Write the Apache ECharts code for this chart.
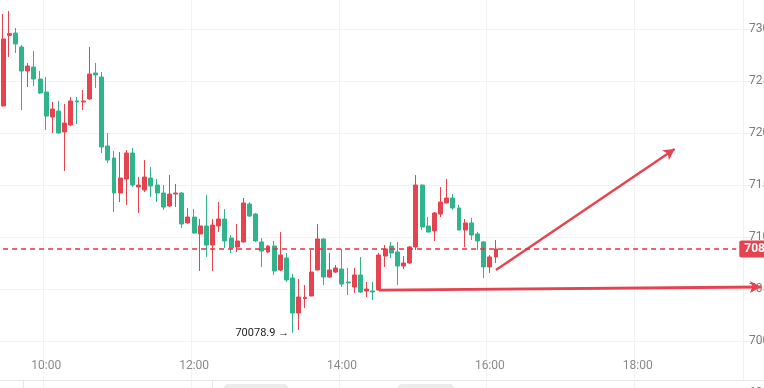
<!DOCTYPE html>
<html><head><meta charset="utf-8">
<script src="https://cdn.jsdelivr.net/npm/echarts/dist/echarts.min.js"></script>
<style>html,body{margin:0;padding:0;background:#fff}#c{width:764px;height:388px}</style>
</head><body><div id="c"></div>
<script>
const times = [
 '09:25','09:30','09:35','09:40','09:45','09:50','09:55',
 '10:00','10:05','10:10','10:15','10:20','10:25','10:30','10:35','10:40','10:45','10:50','10:55',
 '11:00','11:05','11:10','11:15','11:20','11:25','11:30','11:35','11:40','11:45','11:50','11:55',
 '12:00','12:05','12:10','12:15','12:20','12:25','12:30','12:35','12:40','12:45','12:50','12:55',
 '13:00','13:05','13:10','13:15','13:20','13:25','13:30','13:35','13:40','13:45','13:50','13:55',
 '14:00','14:05','14:10','14:15','14:20','14:25','14:30','14:35','14:40','14:45','14:50','14:55',
 '15:00','15:05','15:10','15:15','15:20','15:25','15:30','15:35','15:40','15:45','15:50','15:55',
 '16:00','16:05','16:10','16:15','16:20','16:25','16:30','16:35','16:40','16:45','16:50','16:55',
 '17:00','17:05','17:10','17:15','17:20','17:25','17:30','17:35','17:40','17:45','17:50','17:55',
 '18:00','18:05','18:10','18:15','18:20','18:25','18:30','18:35','18:40','18:45','18:50','18:55',
 '19:00','19:05','19:10','19:15','19:20','19:25','19:30','19:35','19:40'
];
const tickLabels = ['10:00','12:00','14:00','16:00','18:00'];
const opens = [
 72260,72939,72961,72827,72596,72634,72519,72394,72154,72211,
 72010,72077,72308,72298,72327,72577,72538,71875,71760,71423,
 71558,71808,71481,71452,71567,71500,71423,71298,71413,71423,
 71135,71192,71029,71106,70923,71106,71173,70990,70904,70952,
 71317,71221,70952,70856,70913,70683,70798,70606,70269,70408,
 70433,70683,70981,70615,70663,70692,70567,70519,70635,70481,
 70481,70490,70817,70913,70856,70721,70750,70904,71500,71106,
 71058,71221,71327,71375,71279,71067,71135,71029,70952,70712,
 70808];
const closes = [
 72904,72955,72856,72596,72644,72519,72385,72163,72231,72000,
 72096,72308,72298,72308,72567,72558,71865,71740,71423,71567,
 71808,71500,71500,71577,71490,71423,71288,71413,71423,71125,
 71192,71038,71106,70923,71115,71173,70962,70894,70962,71327,
 71202,70962,70865,70913,70673,70827,70587,70269,70423,70420,
 70663,70981,70615,70683,70702,70548,70558,70635,70471,70500,
 70471,70827,70885,70846,70721,70750,70904,71500,71096,71048,
 71231,71336,71375,71279,71067,71135,71019,70962,70712,70808,
 70885];
const lows = [
 72255,72731,72769,72221,72442,72452,72375,72029,72000,71995,
 71635,72070,72086,72221,72317,72433,71808,71712,71240,71336,
 71308,71481,71231,71433,71385,71336,71260,71288,71288,71087,
 71130,71033,70673,70808,70673,71048,70894,70846,70856,70948,
 71192,70952,70712,70846,70635,70673,70567,70078.9,70106,70317,
 70430,70680,70538,70606,70654,70519,70442,70462,70462,70423,
 70394,70485,70712,70798,70538,70692,70740,70875,71067,71045,
 70962,71192,71325,71260,71065,70904,70971,70875,70606,70654,
 70750];
const highs = [
 73144,73173,73010,72846,72673,72788,72596,72538,72298,72308,
 72279,72346,72346,72413,72827,72673,72586,72000,71827,71817,
 71836,71856,71577,71740,71673,71558,71500,71596,71510,71433,
 71279,71269,71173,71404,71173,71336,71269,71019,71125,71375,
 71336,71231,70990,70923,70962,71048,70846,70644,70596,70538,
 70875,71125,70985,70846,70731,70885,70702,70702,70808,70567,
 70567,70846,70923,70952,70952,70817,70913,71596,71505,71192,
 71240,71481,71558,71413,71308,71173,71183,71048,70962,70827,
 70971];
const lastPrice = 70885;
const lowPrice = 70078.9;
const lowTime = '13:20';
const priceLineEnd = '19:20';
const hArrow = {fromTime:'14:30', fromValue:70490, toTime:'19:40', toValue:70519};
const dArrow = {fromTime:'16:05', fromValue:70683, toTime:'18:30', toValue:71846};

const RED = '#e5434f', GREEN = '#2fb48b';
const data = opens.map((o, i) => [o, closes[i], lows[i], highs[i]]);
const chart = echarts.init(document.getElementById('c'), null, {renderer: 'canvas'});
const option = {
  animation: false,
  backgroundColor: '#fff',
  grid: {left: 0, right: 0, top: -23, bottom: -5, containLabel: false, outerBoundsMode: 'none'},
  xAxis: {
    type: 'category', data: times, boundaryGap: true, offset: -35,
    axisLine: {show: false}, axisTick: {show: false},
    axisLabel: {interval: (i, v) => tickLabels.includes(v), margin: 2, color: '#8a8a8a', fontSize: 12, fontFamily: 'Roboto'},
    splitLine: {show: true, interval: (i, v) => tickLabels.includes(v), lineStyle: {color: '#f2f2f2'}}
  },
  yAxis: {
    type: 'value', position: 'right', min: 69500, max: 73500, interval: 500,
    axisLine: {show: false}, axisTick: {show: false},
    axisLabel: {inside: true, align: 'left', margin: 15, color: '#7a7a7a', fontSize: 12, fontFamily: 'Roboto', formatter: v => v.toFixed(1)},
    splitLine: {show: true, lineStyle: {color: '#f2f2f2'}}
  },
  graphic: [
    {type: 'line', shape: {x1: 743.5, y1: 0, x2: 743.5, y2: 380}, style: {stroke: '#f0f0f0', lineWidth: 1}, z: 0},
    {type: 'line', shape: {x1: 0, y1: 380.5, x2: 764, y2: 380.5}, style: {stroke: '#e6e6e6', lineWidth: 1}},
    {type: 'line', shape: {x1: 23.5, y1: 381, x2: 23.5, y2: 388}, style: {stroke: '#e6e6e6', lineWidth: 1}},
    {type: 'line', shape: {x1: 212.5, y1: 381, x2: 212.5, y2: 388}, style: {stroke: '#e6e6e6', lineWidth: 1}},
    {type: 'rect', shape: {x: 224, y: 384, width: 64, height: 10, r: 4}, style: {fill: '#ececec'}},
    {type: 'rect', shape: {x: 398, y: 384, width: 56, height: 10, r: 4}, style: {fill: '#ececec'}}
  ],
  series: [{
    type: 'candlestick',
    data: data,
    barWidth: '72%',
    itemStyle: {color: RED, color0: GREEN, borderColor: RED, borderColor0: GREEN, borderColorDoji: RED, borderWidth: 1},
    markLine: {
      silent: true, animation: false, symbol: ['none', 'none'],
      lineStyle: {color: RED, width: 1, opacity: 1},
      data: [
        [{coord: [hArrow.fromTime, hArrow.fromValue], lineStyle: {type: 'solid', color: RED, width: 2.8}, label: {show: false}},
         {coord: [hArrow.toTime, hArrow.toValue], symbol: 'arrow', symbolSize: [9, 11]}],
        [{coord: [dArrow.fromTime, dArrow.fromValue], lineStyle: {type: 'solid', color: RED, width: 2.4}, label: {show: false}},
         {coord: [dArrow.toTime, dArrow.toValue], symbol: 'arrow', symbolSize: [9, 11]}],
        [{coord: [times[0], lastPrice], lineStyle: {type: [5, 4], color: '#e8303d', width: 1.5, opacity: 1},
          label: {show: true, position: 'end', distance: 3, formatter: lastPrice.toFixed(1), color: '#fff', fontWeight: 'bold', fontSize: 12, fontFamily: 'Roboto', backgroundColor: RED, padding: [3, 4, 2, 5], borderRadius: 2}},
         {coord: [priceLineEnd, lastPrice]}]
      ]
    },
    markPoint: {
      silent: true, animation: false, symbol: 'circle', symbolSize: 1, itemStyle: {color: 'rgba(0,0,0,0)'},
      data: [{coord: [lowTime, lowPrice], label: {show: true, position: 'left', distance: 3, formatter: lowPrice.toFixed(1) + ' →', color: '#222', fontSize: 11, fontFamily: 'Roboto'}}]
    }
  }]
};
chart.setOption(option);
</script></body></html>
